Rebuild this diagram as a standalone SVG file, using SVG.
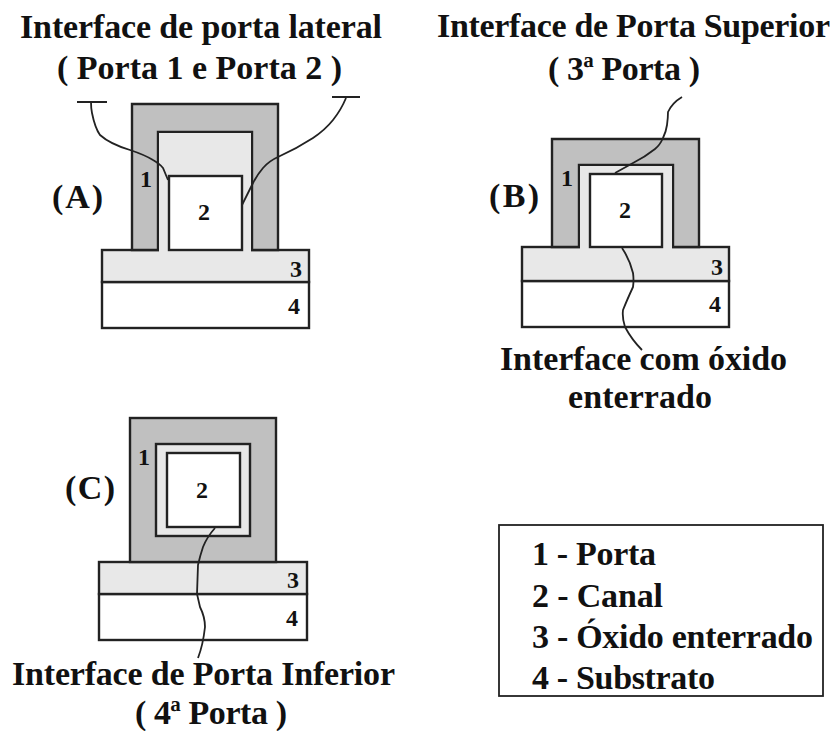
<svg xmlns="http://www.w3.org/2000/svg" width="837" height="731" viewBox="0 0 837 731">
<style>
text{font-family:"Liberation Serif","Times New Roman",serif;font-weight:bold;fill:#111;font-size:34px}
.n{font-size:24px;text-anchor:middle}
.r{stroke:#222;stroke-width:2.4}
.g{fill:#c0c0c0}.o{fill:#e8e8e8}.w{fill:#fff}
.s{fill:none;stroke:#222;stroke-width:1.8}
</style>
<rect width="837" height="731" fill="#fff"/>
<g id="titles">
<text x="20" y="38" textLength="362">Interface de porta lateral</text>
<text x="57" y="79" textLength="285">( Porta 1 e Porta 2 )</text>
<text x="437" y="37" textLength="393">Interface de Porta Superior</text>
<text x="548" y="80" textLength="152">( 3ª Porta )</text>
<text x="500" y="370" textLength="287">Interface com óxido</text>
<text x="568" y="408" textLength="144">enterrado</text>
<text x="12" y="685" textLength="383">Interface de Porta Inferior</text>
<text x="135" y="724" textLength="152">( 4ª Porta )</text>
</g>
<g id="node-a">
<rect class="r w" x="102" y="282" width="207" height="46"/>
<rect class="r o" x="102" y="250" width="207" height="32"/>
<path class="r g" d="M132 250V104H278V250H252V132H158V250Z"/>
<path class="o" d="M159 133H251V252H159Z"/>
<path class="s" d="M158 250V132H252V250"/>
<rect class="r w" x="169" y="176" width="73" height="74"/>
<text x="52" y="208" textLength="51">(A)</text>
<text class="n" x="146" y="187">1</text><text class="n" x="204" y="220">2</text><text class="n" x="296" y="277">3</text><text class="n" x="294" y="314">4</text>
</g>
<g id="node-b">
<rect class="r w" x="522" y="281" width="207" height="46"/>
<rect class="r o" x="522" y="247" width="207" height="34"/>
<path class="r g" d="M552 247V139H699V247H673V165H579V247Z"/>
<path class="o" d="M580 166H672V249H580Z"/>
<path class="s" d="M579 247V165H673V247"/>
<rect class="r w" x="590" y="174" width="72" height="73"/>
<text x="489" y="207" textLength="50">(B)</text>
<text class="n" x="567" y="186">1</text><text class="n" x="625" y="218">2</text><text class="n" x="717" y="275">3</text><text class="n" x="715" y="312">4</text>
</g>
<g id="node-c">
<rect class="r w" x="99" y="594" width="208" height="46"/>
<rect class="r o" x="99" y="562" width="208" height="32"/>
<rect class="r g" x="130" y="418" width="146" height="144"/>
<rect class="r o" x="156" y="444" width="94" height="92"/>
<rect class="r w" x="167" y="453" width="73" height="74"/>
<text x="65" y="499" textLength="50">(C)</text>
<text class="n" x="144" y="465">1</text><text class="n" x="202" y="498">2</text><text class="n" x="293" y="588">3</text><text class="n" x="292" y="626">4</text>
</g>
<g id="connectors">
<path class="s" d="M77 102H107M91 102Q91 108 92 113Q95 128 100 135Q110 144 130 150Q145 155 153 160Q160 164 163 168L168 180"/>
<path class="s" d="M332 97H360M346 98Q341 110 333 120Q325 130 313 138Q296 149 278 157Q269 161 263 168Q257 175 253 183L242 205"/>
<path class="s" d="M682 97Q672 103 668 112Q668 118 667 125Q666 132 663 138Q660 145 655 149Q645 157 633 163Q624 168 615 173"/>
<path class="s" d="M622 248Q630 260 633 273Q634 280 633 287Q627 300 623 310Q622 318 625 327Q632 340 642 350"/>
<path class="s" d="M215 528Q207 537 203 547Q200 556 198 565L197 594L200 607Q205 617 205 627Q203 645 198 658"/>
</g>
<g id="legend">
<rect x="499" y="525" width="324" height="171" fill="none" stroke="#222" stroke-width="1.800"/>
<text x="532" y="565" textLength="124">1 - Porta</text>
<text x="532" y="607" textLength="131">2 - Canal</text>
<text x="532" y="648" textLength="281">3 - Óxido enterrado</text>
<text x="532" y="689" textLength="183">4 - Substrato</text>
</g>
</svg>
